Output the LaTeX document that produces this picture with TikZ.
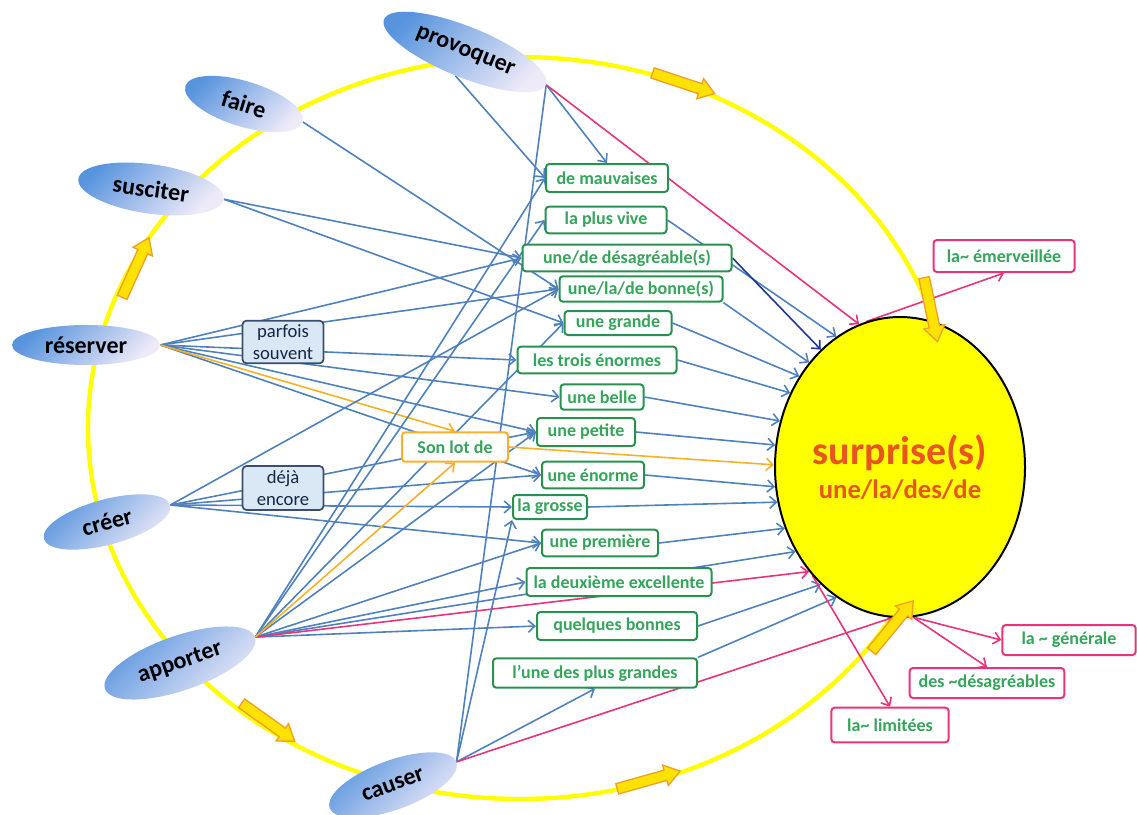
\documentclass[tikz,border=0pt]{standalone}
\usepackage{fontspec}
\setmainfont{Carlito}
\usetikzlibrary{arrows.meta,shapes.geometric,shapes.arrows}
\definecolor{lblue}{RGB}{79,129,189}
\definecolor{navy}{RGB}{31,56,150}
\definecolor{gtxt}{RGB}{52,165,90}
\definecolor{gbrd}{RGB}{40,145,80}
\definecolor{pinkc}{RGB}{232,52,122}
\definecolor{orc}{RGB}{245,178,40}
\definecolor{vblue}{RGB}{88,148,222}
\definecolor{vlight}{RGB}{238,234,248}
\definecolor{labfill}{RGB}{218,231,244}
\definecolor{labbrd}{RGB}{58,78,108}
\definecolor{labtxt}{RGB}{22,40,70}
\definecolor{surpt}{RGB}{232,85,30}
\definecolor{yel}{RGB}{255,255,0}
\definecolor{yelf}{RGB}{255,226,0}
\definecolor{ybrd}{RGB}{238,160,40}
\pgfdeclarelayer{bgbg}
\pgfdeclarelayer{bg}
\pgfsetlayers{bgbg,bg,main}
\begin{document}
\begin{tikzpicture}[x=0.75pt,y=-0.75pt,
  verb/.style={ellipse, inner sep=0pt, top color=vblue, bottom color=vlight, shading angle=45,
    font=\fontsize{18}{20}\selectfont\bfseries, text=black},
  gbox/.style={draw=gbrd, line width=1.5pt, rounded corners=2.5pt, fill=white, text=gtxt,
    font=\fontsize{13.5}{15}\selectfont\bfseries, inner sep=0pt, minimum height=20pt},
  obox/.style={gbox, draw=orc},
  pbox/.style={gbox, draw=pinkc, minimum height=22.5pt},
  lab/.style={draw=labbrd, line width=1.3pt, rounded corners=3pt, fill=labfill, text=labtxt,
    font=\fontsize{14}{16.5}\selectfont, align=center, inner sep=0pt, minimum width=60.75pt, minimum height=32pt},
  ya/.style={single arrow, draw=ybrd, fill=yelf, line width=1pt, text height=0pt, text depth=0pt,
    inner xsep=0pt, inner ysep=3.5pt, single arrow head extend=4pt, single arrow tip angle=70, minimum height=49pt},
  bl/.style={draw=lblue, line width=1.2pt, -{Straight Barb[length=5pt,width=9pt]}},
  bln/.style={draw=lblue, line width=1.2pt},
  nv/.style={draw=navy, line width=1.2pt, -{Straight Barb[length=5pt,width=9pt]}},
  pk/.style={draw=pinkc, line width=1.2pt, -{Straight Barb[length=5pt,width=9pt]}},
  orl/.style={draw=orc, line width=1.2pt, -{Straight Barb[length=5pt,width=9pt]}}
]
\useasboundingbox (0,0) rectangle (1137,814);

% big yellow cycle
\begin{pgfonlayer}{bgbg}
\draw[yel, line width=3.3pt] (520,428) ellipse [x radius=432, y radius=371];
\end{pgfonlayer}

% verbs
\node[verb, minimum width=131pt, minimum height=38pt, rotate=-22] (prov) at (465,52) {provoquer};
\node[verb, minimum width=92pt, minimum height=34pt, rotate=-17] (faire) at (244,104) {faire};
\node[verb, minimum width=110pt, minimum height=37pt, rotate=-8] (susc) at (151,189) {susciter};
\node[verb, minimum width=111pt, minimum height=30pt] (res) at (86,345) {réserver};
\node[verb, minimum width=98pt, minimum height=34pt, rotate=15] (creer) at (107,522) {créer};
\node[verb, minimum width=119pt, minimum height=41pt, rotate=19] (app) at (180,663) {apporter};
\node[verb, minimum width=101pt, minimum height=37pt, rotate=20] (caus) at (393,785) {causer};

% green boxes
\node[gbox, minimum width=91.5pt, minimum height=21pt] (mauv) at (607,178) {de mauvaises};
\node[gbox, minimum width=90.75pt] (vive) at (606,220) {la plus vive};
\node[gbox, minimum width=156.75pt] (desag) at (627,258) {une/de désagréable(s)};
\node[gbox, minimum width=122.25pt, minimum height=19pt] (bonne) at (641,289) {une/la/de bonne(s)};
\node[gbox, minimum width=80.25pt, minimum height=18pt] (grande) at (618,323) {une grande};
\node[gbox, minimum width=119.25pt] (trois) at (597,360) {les trois énormes};
\node[gbox, minimum width=62.25pt, minimum height=19pt] (belle) at (602,397) {une belle};
\node[gbox, minimum width=73.5pt, minimum height=21pt] (petite) at (586,432) {une petite};
\node[obox, minimum width=79.5pt, minimum height=22pt] (lot) at (455,447) {Son lot de};
\node[gbox, minimum width=76.5pt] (enorme) at (593,475) {une énorme};
\node[gbox, minimum width=55.5pt, minimum height=18pt] (grosse) at (550,507) {la grosse};
\node[gbox, minimum width=87pt] (premiere) at (600,543) {une première};
\node[gbox, minimum width=138.75pt, minimum height=21pt] (deux) at (619,582) {la deuxième excellente};
\node[gbox, minimum width=120pt, minimum height=21pt] (quelques) at (617,626) {quelques bonnes};
\node[gbox, minimum width=153pt, minimum height=22pt] (lune) at (595,673) {l'une des plus grandes};

% adverb labels
\node[lab] (parf) at (283,342) {parfois\\souvent};
\node[lab, minimum height=33pt] (deja) at (283,488) {déjà\\encore};

% central ellipse
\node[ellipse, draw=black, line width=1.5pt, fill=yel, minimum width=187.5pt, minimum height=225pt,
  align=center, text=surpt, font=\bfseries, inner sep=0pt] (surp) at (900,467)
  {\fontsize{30}{30}\selectfont surprise(s)\\[6pt]\fontsize{20}{22}\selectfont une/la/des/de};

% pink boxes
\node[pbox, minimum width=105.75pt, minimum height=24pt] (emerv) at (1004,256) {la\textasciitilde{} émerveillée};
\node[pbox, minimum width=100pt] (gener) at (1069,640) {la \textasciitilde{} générale};
\node[pbox, minimum width=116pt] (desagr) at (987,683) {des \textasciitilde{}désagréables};
\node[pbox, minimum width=88pt, minimum height=26pt] (limit) at (890,725) {la\textasciitilde{} limitées};

% yellow block arrows on the cycle
\node[ya, rotate=65.7] (ya1) at (134,271) {};
\node[ya, rotate=-18.4] (ya2) at (680,82) {};
\node[ya, rotate=-78.2] (ya3) at (930,306) {};
\node[ya, rotate=50.4] (ya4) at (890,629) {};
\node[ya, rotate=15.7] (ya5) at (645,781) {};
\node[ya, rotate=-35.5] (ya6) at (265,720) {};

\begin{pgfonlayer}{bg}
% provoquer
\draw[bl] (prov.south) -- (mauv.west);
\draw[bl] (prov.east) -- (mauv.north);
\draw[pk] (prov.east) -- (surp.106);
% faire
\draw[bl] (faire.east) -- (bonne.west);
% susciter
\draw[bl] (susc.east) -- (desag.west);
\draw[bl] (susc.east) -- (grande.west);
% reserver
\draw[bl] (res.east) -- (desag.west);
\draw[bl] (res.east) -- (bonne.west);
\draw[bl] (res.east) -- (trois.west);
\draw[bl] (res.east) -- (belle.west);
\draw[bl] (res.east) -- (petite.west);
\draw[bl] (res.east) -- (enorme.west);
\draw[orl] (res.east) -- (lot.north);
% creer
\draw[bl] (creer.east) -- (bonne.west);
\draw[bl] (creer.east) -- (petite.west);
\draw[bl] (creer.east) -- (enorme.west);
\draw[bl] (creer.east) -- (grosse.west);
\draw[bl] (creer.east) -- (premiere.west);
% apporter
\draw[bl] (app.east) -- (mauv.west);
\draw[bl] (app.east) -- (vive.west);
\draw[bl] (app.east) -- (grande.west);
\draw[bl] (app.east) -- (petite.west);
\draw[bl] (app.east) -- (premiere.west);
\draw[bl] (app.east) -- (deux.west);
\draw[bl] (app.east) -- (quelques.west);
\draw[bl] (app.east) -- (surp.219);
\draw[pk] (app.east) -- (surp.229);
\draw[orl] (app.east) -- (lot.south);
% causer
\draw[bln] (caus.east) -- (prov.east);
\draw[bl] (caus.east) -- (grosse.south west);
\draw[bl] (caus.east) -- (lune.south);
\draw[pk] (caus.east) -- (surp.267);
% boxes to surprise
\draw[bl] (vive.east) -- (surp.116.6);
\draw[nv] (desag.east) -- (surp.124);
\draw[bl] (bonne.south east) -- (surp.131.5);
\draw[bl] (grande.east) -- (surp.138);
\draw[bl] (trois.east) -- (surp.146.5);
\draw[bl] (belle.east) -- (surp.159.6);
\draw[bl] (petite.east) -- (surp.170);
\draw[orl] (lot.east) -- (surp.179);
\draw[bl] (enorme.east) -- (surp.189.4);
\draw[bl] (grosse.east) -- (surp.196.8);
\draw[bl] (premiere.east) -- (surp.208);
\draw[bl] (quelques.east) -- (surp.236.3);
\draw[bl] (lune.north east) -- (surp.244.6);
% surprise to pink boxes
\draw[pk] (surp.103) -- (emerv.south);
\draw[pk] (surp.275) -- (gener.west);
\draw[pk] (surp.275) -- (desagr.north);
\draw[pk] (surp.231) -- (limit.north);
\end{pgfonlayer}
\end{tikzpicture}
\end{document}
